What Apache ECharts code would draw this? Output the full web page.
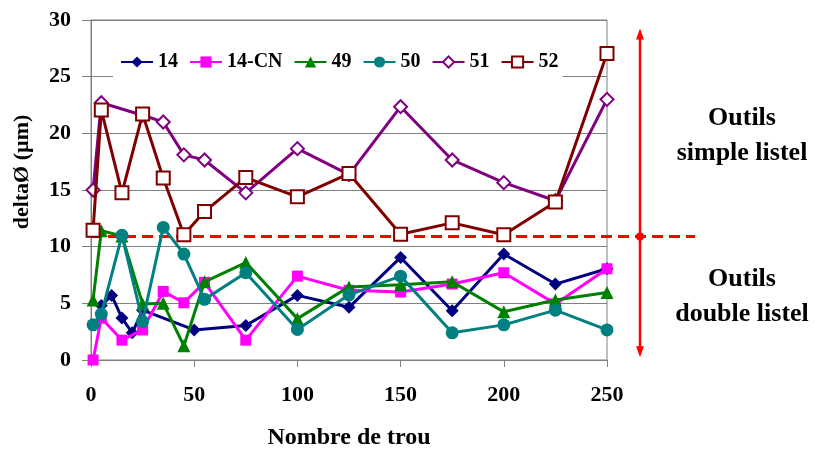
<!DOCTYPE html>
<html><head><meta charset="utf-8">
<script src="https://cdn.jsdelivr.net/npm/echarts@6/dist/echarts.min.js"></script>
<style>html,body{margin:0;padding:0;background:#fff}#c{width:815px;height:450px}</style>
</head><body><div id="c"></div>
<script>
// ---- data ----
const seriesNames = ['14', '14-CN', '49', '50', '51', '52'];
const x14   = [5, 10, 15, 20, 25, 50, 75, 100, 125, 150, 175, 200, 225, 250];
const y14   = [4.8, 5.7, 3.7, 2.4, 4.4, 2.65, 3.05, 5.7, 4.65, 9.05, 4.35, 9.35, 6.7, 8.05];
const x14CN = [1, 5, 15, 25, 35, 45, 55, 75, 100, 125, 150, 175, 200, 225, 250];
const y14CN = [0, 3.7, 1.75, 2.65, 6.05, 5.05, 6.85, 1.75, 7.4, 6.15, 6.0, 6.7, 7.7, 4.95, 8.05];
const x49   = [1, 5, 15, 25, 35, 45, 55, 75, 100, 125, 150, 175, 200, 225, 250];
const y49   = [5.3, 11.4, 10.95, 4.95, 5.0, 1.25, 6.9, 8.6, 3.65, 6.45, 6.65, 6.9, 4.25, 5.3, 5.95];
const x50   = [1, 5, 15, 25, 35, 45, 55, 75, 100, 125, 150, 175, 200, 225, 250];
const y50   = [3.1, 4.05, 11.0, 3.4, 11.7, 9.35, 5.35, 7.7, 2.7, 5.75, 7.4, 2.4, 3.1, 4.4, 2.65];
const x51   = [1, 5, 25, 35, 45, 55, 75, 100, 125, 150, 175, 200, 225, 250];
const y51   = [15.0, 22.7, 21.6, 21.0, 18.1, 17.65, 14.75, 18.65, 16.35, 22.35, 17.65, 15.65, 14.05, 23.0];
const x52   = [1, 5, 15, 25, 35, 45, 55, 75, 100, 125, 150, 175, 200, 225, 250];
const y52   = [11.45, 22.05, 14.75, 21.7, 16.05, 11.05, 13.1, 16.1, 14.4, 16.45, 11.1, 12.1, 11.05, 13.95, 27.05];
const threshold = 10.9;
const xTickValues = [0, 50, 100, 150, 200, 250];
const yTickValues = [0, 5, 10, 15, 20, 25, 30];
const xTitle = 'Nombre de trou';
const yTitle = 'deltaØ (µm)';
const upperLabel = 'Outils\nsimple listel';
const lowerLabel = 'Outils\ndouble listel';

// ---- styles ----
const FONT = '"Liberation Serif", "Times New Roman", serif';
const colors = ['#000080', '#FF00FF', '#008000', '#008080', '#800080', '#800000'];
const symbols = ['diamond', 'rect', 'triangle', 'circle', 'emptyDiamond', 'emptyRect'];
const symbolSizes = [13, 11, 13, 13, 13, 13];
const xs = [x14, x14CN, x49, x50, x51, x52];
const ys = [y14, y14CN, y49, y50, y51, y52];

const chart = echarts.init(document.getElementById('c'), null, {renderer: 'canvas'});
const series = seriesNames.map((n, i) => ({
  name: n,
  type: 'line',
  data: xs[i].map((x, j) => [x, ys[i][j]]),
  symbol: symbols[i],
  symbolSize: symbolSizes[i],
  showAllSymbol: true,
  lineStyle: {color: colors[i], width: 3},
  itemStyle: {color: colors[i], borderWidth: i >= 4 ? 1.4 : 0},
  z: 3 + i
}));

chart.setOption({
  animation: false,
  backgroundColor: '#fff',
  grid: {left: 91, right: 208, top: 20, bottom: 90, containLabel: false, outerBoundsMode: 'none',
         show: true, borderColor: '#808080', borderWidth: 1, backgroundColor: 'transparent'},
  legend: {
    left: 113, top: 44,
    padding: [8, 4, 8, 7],
    backgroundColor: '#fff',
    itemWidth: 32, itemHeight: 14, itemGap: 11,
    textStyle: {fontFamily: FONT, fontWeight: 'bold', fontSize: 20, color: '#000'},
    data: seriesNames,
    z: 10
  },
  xAxis: {
    type: 'value',
    min: xTickValues[0], max: xTickValues[xTickValues.length - 1],
    interval: xTickValues[1] - xTickValues[0],
    name: xTitle, nameLocation: 'middle', nameGap: 66,
    nameTextStyle: {fontFamily: FONT, fontWeight: 'bold', fontSize: 24, color: '#000'},
    axisLine: {show: true, lineStyle: {color: '#808080', width: 1}},
    axisTick: {show: true, length: 7, lineStyle: {color: '#808080'}},
    splitLine: {show: false},
    axisLabel: {fontFamily: FONT, fontWeight: 'bold', fontSize: 22, color: '#000', margin: 24}
  },
  yAxis: {
    type: 'value',
    min: yTickValues[0], max: yTickValues[yTickValues.length - 1],
    interval: yTickValues[1] - yTickValues[0],
    name: yTitle, nameLocation: 'middle', nameGap: 58,
    nameTextStyle: {fontFamily: FONT, fontWeight: 'bold', fontSize: 22, color: '#000', padding: [0, 0, 0, 36]},
    axisLine: {show: true, lineStyle: {color: '#808080', width: 1}},
    axisTick: {show: true, length: 9, lineStyle: {color: '#808080'}},
    splitLine: {show: true, lineStyle: {color: '#808080', width: 1}},
    axisLabel: {fontFamily: FONT, fontWeight: 'bold', fontSize: 22, color: '#000', margin: 20}
  },
  series: series
});

// ---- annotations positioned through the axes ----
const toPx = (x, y) => chart.convertToPixel({gridIndex: 0}, [x, y]);
const xMin = xTickValues[0], xMax = xTickValues[xTickValues.length - 1];
const yMax = yTickValues[yTickValues.length - 1];
const leftPx = toPx(xMin, threshold)[0];
const rightPx = toPx(xMax, threshold)[0];
const midY = toPx(xMin, threshold)[1];
const arrowX = rightPx + 33;
const topY = toPx(xMin, yMax - 0.75)[1];
const botY = toPx(xMin, 0.25)[1];
const dashEnd = arrowX + 55;
const labelX = arrowX + 102;
const upperY = toPx(xMin, 19.75)[1];
const lowerY = toPx(xMin, 5.55)[1];
const red = '#FF0000';
const txtStyle = {fontFamily: FONT, fontWeight: 'bold', fontSize: 26, fill: '#000', textAlign: 'center', textVerticalAlign: 'middle', lineHeight: 35};

chart.setOption({
  graphic: [
    {type: 'line', z: 1, shape: {x1: leftPx, y1: midY, x2: dashEnd, y2: midY}, style: {stroke: red, lineWidth: 3, lineDash: [11, 6]}},
    {type: 'line', z: 20, shape: {x1: arrowX, y1: topY + 8, x2: arrowX, y2: botY - 8}, style: {stroke: red, lineWidth: 2.5}},
    {type: 'polygon', z: 20, shape: {points: [[arrowX, topY], [arrowX - 4, topY + 11], [arrowX + 4, topY + 11]]}, style: {fill: red}},
    {type: 'polygon', z: 20, shape: {points: [[arrowX, botY], [arrowX - 4, botY - 11], [arrowX + 4, botY - 11]]}, style: {fill: red}},
    {type: 'circle', z: 20, shape: {cx: arrowX, cy: midY, r: 4}, style: {fill: red}},
    {type: 'text', z: 20, x: labelX, y: upperY, style: Object.assign({text: upperLabel}, txtStyle)},
    {type: 'text', z: 20, x: labelX, y: lowerY, style: Object.assign({text: lowerLabel}, txtStyle)}
  ]
});
</script>
</body></html>
